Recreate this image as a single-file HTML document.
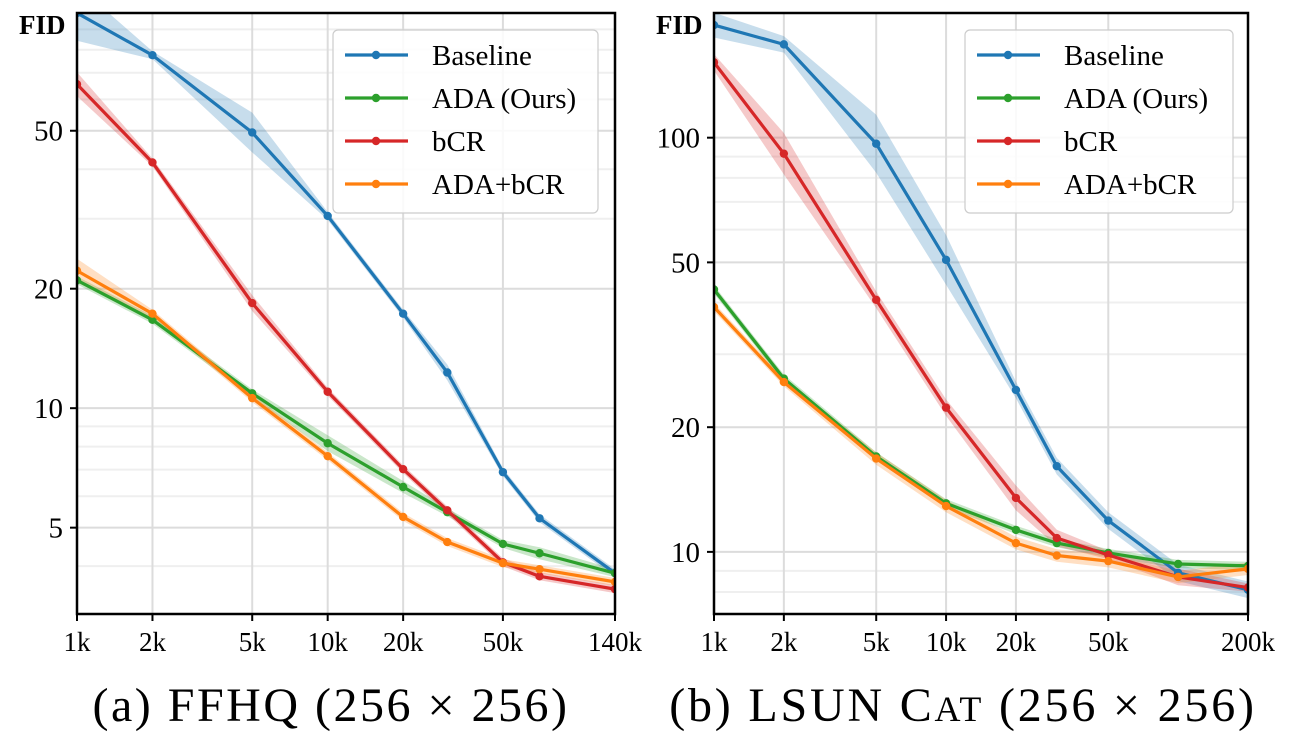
<!DOCTYPE html>
<html><head><meta charset="utf-8"><style>
body{margin:0;background:#fff;width:1291px;height:737px;overflow:hidden}
svg text{font-family:"Liberation Serif",serif}
</style></head><body>
<svg id="c" width="1291" height="737"></svg>
<script>
// ---------- data ----------
const seriesNames=["Baseline","ADA (Ours)","bCR","ADA+bCR"];
const seriesColors=["#1f77b4","#2ca02c","#d62728","#ff7f0e"];
// Panel A: FFHQ
const xA=[1,2,5,10,20,30,50,70,140];
const baseA=[99,77.5,49.5,30.5,17.3,12.3,6.9,5.28,3.84];
const adaA=[21,16.7,10.9,8.16,6.33,5.47,4.55,4.31,3.84];
const bcrA=[65.5,41.6,18.4,11.0,7.02,5.53,4.09,3.77,3.5];
const adabcrA=[22.2,17.3,10.6,7.57,5.32,4.6,4.07,3.93,3.65];
const spreadBaseA=[0.07,0.01,0.05,0.01,0.01,0.02,0.01,0.01,0.01];
const spreadAdaA=[0.01,0.01,0.01,0.02,0.015,0.01,0.01,0.015,0.01];
const spreadBcrA=[0.03,0.01,0.02,0.01,0.01,0.01,0.01,0.01,0.01];
const spreadAdabcrA=[0.03,0.01,0.01,0.01,0.01,0.01,0.01,0.01,0.01];
// Panel B: LSUN Cat
const xB=[1,2,5,10,20,30,50,100,200];
const baseB=[187,168,96.7,50.7,24.6,16.1,11.9,8.9,8.1];
const adaB=[43,26.2,17.0,13.1,11.3,10.5,9.94,9.35,9.25];
const bcrB=[152,91.5,40.6,22.3,13.5,10.8,9.83,8.7,8.2];
const adabcrB=[39,25.7,16.8,12.9,10.5,9.8,9.5,8.7,9.1];
const spreadBaseB=[0.03,0.02,0.07,0.06,0.02,0.02,0.02,0.02,0.02];
const spreadAdaB=[0.01,0.01,0.01,0.01,0.01,0.01,0.01,0.01,0.01];
const spreadBcrB=[0.02,0.05,0.02,0.02,0.03,0.02,0.01,0.02,0.01];
const spreadAdabcrB=[0.01,0.01,0.015,0.015,0.015,0.015,0.015,0.015,0.015];
const xTicksA=[1,2,5,10,20,50,140], xTickLabA=["1k","2k","5k","10k","20k","50k","140k"];
const xTicksB=[1,2,5,10,20,50,200], xTickLabB=["1k","2k","5k","10k","20k","50k","200k"];
const yTicksA=[5,10,20,50], yTicksB=[10,20,50,100];

const NS="http://www.w3.org/2000/svg", svg=document.getElementById("c");
function mk(t,a,p){const e=document.createElementNS(NS,t);for(const k in a)e.setAttribute(k,a[k]);(p||svg).appendChild(e);return e;}
const L=Math.log10;
function panel(P){
  const g=mk("g",{});
  
  
  const sx=v=>P.x0+(L(v)-L(P.xmin))/(L(P.xmax)-L(P.xmin))*(P.x1-P.x0);
  const sy=v=>P.y1-(L(v)-L(P.ymin))/(L(P.ymax)-L(P.ymin))*(P.y1-P.y0);
  const minorY=[3,4,6,7,8,9,30,40,60,70,80,90,200].filter(v=>v>P.ymin&&v<P.ymax&&!P.yt.includes(v));
  minorY.forEach(v=>{const l=mk("line",{x1:P.x0,x2:P.x1,y1:sy(v),y2:sy(v),stroke:"#efefef","stroke-width":2},g);
    });
  P.xt.forEach((v,i)=>{const l=mk("line",{x1:sx(v),x2:sx(v),y1:P.y0,y2:P.y1,stroke:"#dcdcdc","stroke-width":2},g);
    
    const t=mk("text",{x:sx(v),y:P.y1+37,"font-size":27,"text-anchor":"middle"},g);t.textContent=P.xl[i];
    
    mk("line",{x1:sx(v),x2:sx(v),y1:P.y1,y2:P.y1+7,stroke:"#000","stroke-width":2},g);});
  P.yt.forEach(v=>{const l=mk("line",{x1:P.x0,x2:P.x1,y1:sy(v),y2:sy(v),stroke:"#dcdcdc","stroke-width":2},g);
    
    const t=mk("text",{x:P.x0-14,y:sy(v)+10,"font-size":29,"text-anchor":"end"},g);t.textContent=v;
    
    mk("line",{x1:P.x0-7,x2:P.x0,y1:sy(v),y2:sy(v),stroke:"#000","stroke-width":2},g);});
  const cp=mk("clipPath",{id:"cp"+P.name},g);mk("rect",{x:P.x0,y:P.y0,width:P.x1-P.x0,height:P.y1-P.y0},cp);
  const dg=mk("g",{"clip-path":"url(#cp"+P.name+")"},g);
  P.series.forEach((s,k)=>{
    const up=s.map((v,i)=>[sx(P.xs[i]),sy(v*Math.pow(10,P.spread[k][i]))]);
    const lo=s.map((v,i)=>[sx(P.xs[i]),sy(v/Math.pow(10,P.spread[k][i]))]).reverse();
    const b=mk("polygon",{points:up.concat(lo).map(p=>p.join(",")).join(" "),fill:seriesColors[k],opacity:0.25},dg);
    
  });
  P.series.forEach((s,k)=>{
    const pl=mk("polyline",{points:s.map((v,i)=>sx(P.xs[i])+","+sy(v)).join(" "),fill:"none",stroke:seriesColors[k],"stroke-width":3.2,"stroke-linejoin":"round"},dg);
    
    
    s.forEach((v,i)=>{const c=mk("circle",{cx:sx(P.xs[i]),cy:sy(v),r:4.2,fill:seriesColors[k]},dg);
      });
  });
  mk("rect",{x:P.x0,y:P.y0,width:P.x1-P.x0,height:P.y1-P.y0,fill:"none",stroke:"#000","stroke-width":2.5},g);
  const f=mk("text",{x:P.x0-58,y:P.y0+21,"font-size":27,"font-weight":"bold"},g);f.textContent="FID";
  
  const lg=mk("g",{},g);
  mk("rect",{x:P.lx,y:30,width:P.lw,height:183,rx:5,fill:"#fff","fill-opacity":0.85,stroke:"#ccc","stroke-width":1.2},lg);
  seriesNames.forEach((n,k)=>{const y=55+k*43;
    mk("line",{x1:P.lx+12,x2:P.lx+75,y1:y,y2:y,stroke:seriesColors[k],"stroke-width":3.2},lg);
    mk("circle",{cx:P.lx+43,cy:y,r:4.2,fill:seriesColors[k]},lg);
    const t=mk("text",{x:P.lx+99,y:y+10,"font-size":29},lg);t.textContent=n;
    });
}
panel({name:"panel-ffhq",x0:77,x1:615,y0:13,y1:614,xmin:1,xmax:140,ymin:3.03,ymax:99,xt:xTicksA,xl:xTickLabA,yt:yTicksA,
  xs:xA,series:[baseA,adaA,bcrA,adabcrA],spread:[spreadBaseA,spreadAdaA,spreadBcrA,spreadAdabcrA],lx:333,lw:265});
panel({name:"panel-lsun-cat",x0:714,x1:1248,y0:13,y1:614,xmin:1,xmax:200,ymin:7.08,ymax:200,xt:xTicksB,xl:xTickLabB,yt:yTicksB,
  xs:xB,series:[baseB,adaB,bcrB,adabcrB],spread:[spreadBaseB,spreadAdaB,spreadBcrB,spreadAdabcrB],lx:965,lw:268});
</script>
<svg width="1291" height="737" style="position:absolute;left:0;top:0">
<text x="331" y="721" font-size="48" letter-spacing="2.5" text-anchor="middle" font-family="Liberation Serif, serif">(a) FFHQ (256 × 256)</text>
<text x="963" y="721" font-size="48" letter-spacing="2.8" text-anchor="middle" font-family="Liberation Serif, serif">(b) LSUN C<tspan font-size="36">AT</tspan> (256 × 256)</text>
</svg>
</body></html>
